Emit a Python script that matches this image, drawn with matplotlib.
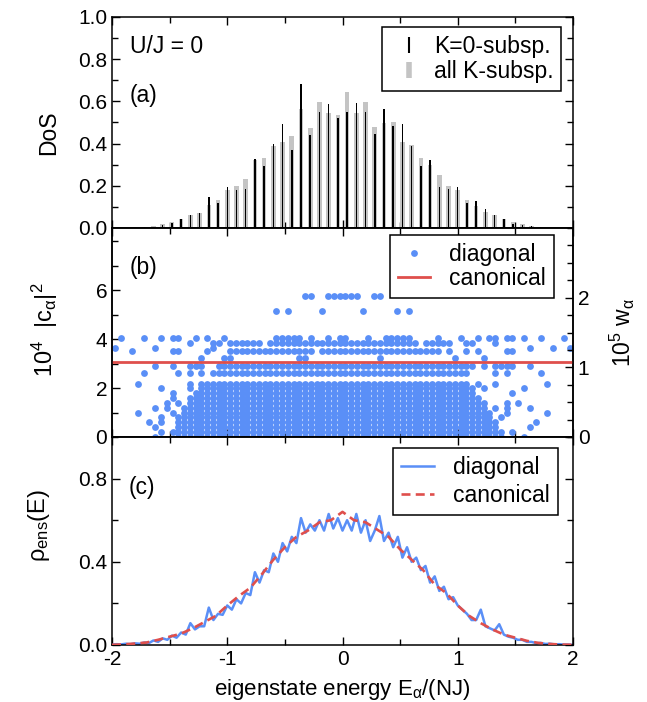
import numpy as np
import matplotlib
matplotlib.use('Agg')
import matplotlib.pyplot as plt
from matplotlib.ticker import MultipleLocator, FixedLocator, FormatStrFormatter
from matplotlib.lines import Line2D

plt.rcParams['font.family'] = ['Liberation Sans', 'DejaVu Sans']
plt.rcParams['mathtext.fontset'] = 'custom'
plt.rcParams['mathtext.rm'] = 'Liberation Sans'
plt.rcParams['mathtext.it'] = 'Liberation Sans'
plt.rcParams['mathtext.default'] = 'regular'
plt.rcParams['axes.unicode_minus'] = False

# ---------------- data: panel (a) DoS histogram ----------------
dos_E = [-1.96, -1.88, -1.80, -1.72, -1.64, -1.56, -1.48, -1.40, -1.32, -1.24,
         -1.16, -1.08, -1.00, -0.92, -0.84, -0.76, -0.68, -0.60, -0.52, -0.44,
         -0.36, -0.28, -0.20, -0.12, -0.04, 0.04, 0.12, 0.20, 0.28, 0.36,
         0.44, 0.52, 0.60, 0.68, 0.76, 0.84, 0.92, 1.00, 1.08, 1.16,
         1.24, 1.32, 1.40, 1.48, 1.56, 1.64, 1.72, 1.80, 1.88, 1.96]
dos_K0 = [0.0, 0.001, 0.002, 0.003, 0.006, 0.013, 0.022, 0.042, 0.062, 0.073,
          0.147, 0.119, 0.195, 0.182, 0.187, 0.325, 0.294, 0.400, 0.492, 0.369,
          0.681, 0.441, 0.551, 0.590, 0.519, 0.548, 0.593, 0.551, 0.445, 0.563,
          0.484, 0.492, 0.388, 0.296, 0.321, 0.195, 0.184, 0.195, 0.119, 0.128,
          0.092, 0.060, 0.044, 0.020, 0.013, 0.008, 0.003, 0.002, 0.001, 0.0]
dos_all = [0.0, 0.001, 0.003, 0.004, 0.009, 0.018, 0.028, 0.045, 0.063, 0.073,
           0.109, 0.135, 0.179, 0.198, 0.231, 0.320, 0.334, 0.389, 0.408, 0.434,
           0.563, 0.476, 0.598, 0.546, 0.535, 0.644, 0.546, 0.598, 0.480, 0.498,
           0.503, 0.408, 0.392, 0.334, 0.298, 0.253, 0.200, 0.179, 0.135, 0.103,
           0.076, 0.063, 0.045, 0.029, 0.018, 0.011, 0.004, 0.002, 0.001, 0.0]

# ---------------- data: panel (b) scatter, read as occupancy rows ----------------
# each row: level of 10^4|c_alpha|^2 and an 80-cell mask over E in [-2, 2]
# (cell width 0.05, groups of 10 cells = 0.5 in E), '#' = points present
b_levels = [5.78, 5.14, 4.03, 3.85, 3.65, 3.50, 3.24, 2.90, 2.60, 2.15, 2.00,
            1.80, 1.60, 1.40, 1.20, 1.00, 0.80, 0.60, 0.40, 0.20, 0.00]
b_masks = [
    ".......... .......... .......... ...##..### ###..##... .......... .......... ..........",
    ".......... .......... ........#. #.....#... ...#.....# .#........ .......... ..........",
    ".#...#..#. ##..#.#..# ........## ###.#..#.# #...#..### ##....#... #..#.##.## .#..#...#.",
    ".......... ...#...##. ######.### ########## ########## ###.#####. .##...#... ..........",
    "#......#.. .......#.. .......... .......... .......... .......... .......... ..#...#..#",
    "...#...... ##....#... ########## #####.#### ########## #######.#. .#.#....## ..........",
    ".......... .....#...# #......... ..##...... ......#... .........# ....#..... ..........",
    ".......#.. #..###..## ########## ########## ########## ########## ###.#.#### ..#.......",
    ".....#.... .#.#.#.### ########## ########## ########## ########## ##....#.#. ....#.....",
    "....#..... ...#.##### ########## ########## ########## ########## ##.#..#... .....#....",
    "........#. ...#.##### ########## ########## ########## ########## ###.#..... .#........",
    ".......... #...###### ########## ########## ########## ########## ###......# ..........",
    ".......... #..####### ########## ########## ########## ########## ####...... ..........",
    ".........# .#.####### ########## ########## ########## ########## #####...#. #.........",
    ".......#.# ..######## ########## ########## ########## ########## #####.#.#. ..#.......",
    "....#..... #.######## ########## ########## ########## ########## ######..#. .....#....",
    "........#. .######### ########## ########## ########## ########## ######.#.. ..........",
    "......#.#. .######### ########## ########## ########## ########## #######... ...#......",
    ".......#.. .######### ########## ########## ########## ########## #######... ..#.......",
    "........#. ########## ########## ########## ########## ########## ########.# ..........",
    ".......#.. .######### ########## ########## ########## ########## ########.. .#........",
]
canonical_c2 = 3.07   # 10^4 |c|^2 of the canonical weight

# ---------------- data: panel (c) energy distributions ----------------
canon_E = [-2.0, -1.9, -1.8, -1.7, -1.6, -1.5, -1.4, -1.3, -1.2, -1.1, -1.0,
           -0.9, -0.8, -0.7, -0.6, -0.5, -0.4, -0.3, -0.2, -0.1, 0.0,
           0.1, 0.2, 0.3, 0.4, 0.5, 0.6, 0.7, 0.8, 0.9, 1.0,
           1.1, 1.2, 1.3, 1.4, 1.5, 1.6, 1.7, 1.8, 1.9, 2.0]
canon_rho = [0.001, 0.003, 0.007, 0.012, 0.025, 0.040, 0.055, 0.080, 0.110, 0.140, 0.190,
             0.235, 0.275, 0.340, 0.410, 0.470, 0.520, 0.550, 0.590, 0.600, 0.640,
             0.600, 0.590, 0.555, 0.520, 0.460, 0.410, 0.360, 0.290, 0.250, 0.190,
             0.140, 0.105, 0.075, 0.050, 0.035, 0.020, 0.010, 0.005, 0.002, 0.001]
diag_E = [-2.00, -1.96, -1.92, -1.88, -1.84, -1.80, -1.76, -1.72, -1.68, -1.64,
          -1.60, -1.56, -1.52, -1.48, -1.44, -1.40, -1.36, -1.32, -1.28, -1.24,
          -1.20, -1.16, -1.12, -1.08, -1.04, -1.00, -0.96, -0.92, -0.88, -0.84,
          -0.80, -0.76, -0.72, -0.68, -0.64, -0.60, -0.56, -0.52, -0.48, -0.44,
          -0.40, -0.36, -0.32, -0.28, -0.24, -0.20, -0.16, -0.12, -0.08, -0.04,
          0.00, 0.04, 0.08, 0.12, 0.16, 0.20, 0.24, 0.28, 0.32, 0.36,
          0.40, 0.44, 0.48, 0.52, 0.56, 0.60, 0.64, 0.68, 0.72, 0.76,
          0.80, 0.84, 0.88, 0.92, 0.96, 1.00, 1.04, 1.08, 1.12, 1.16,
          1.20, 1.24, 1.28, 1.32, 1.36, 1.40, 1.44, 1.48, 1.52, 1.56,
          1.60, 1.64, 1.68, 1.72, 1.76, 1.80, 1.84, 1.88, 1.92, 1.96, 2.00]
diag_rho = [0.003, 0.004, 0.003, 0.006, 0.004, 0.008, 0.006, 0.012, 0.009, 0.022,
            0.015, 0.032, 0.025, 0.045, 0.035, 0.060, 0.050, 0.105, 0.075, 0.090,
            0.090, 0.180, 0.120, 0.150, 0.145, 0.190, 0.170, 0.220, 0.200, 0.250,
            0.240, 0.350, 0.300, 0.360, 0.350, 0.440, 0.400, 0.490, 0.450, 0.520,
            0.490, 0.610, 0.540, 0.580, 0.550, 0.600, 0.550, 0.630, 0.560, 0.610,
            0.550, 0.600, 0.550, 0.630, 0.540, 0.600, 0.500, 0.550, 0.620, 0.500,
            0.540, 0.470, 0.520, 0.420, 0.470, 0.400, 0.420, 0.360, 0.380, 0.300,
            0.330, 0.260, 0.280, 0.220, 0.230, 0.190, 0.170, 0.150, 0.120, 0.120,
            0.170, 0.090, 0.080, 0.070, 0.100, 0.050, 0.040, 0.035, 0.025, 0.025,
            0.015, 0.015, 0.009, 0.010, 0.005, 0.006, 0.003, 0.004, 0.002, 0.002, 0.001]

# ---------------- style ----------------
BLUE = '#5a8ff7'
RED = '#df4f4c'
GRAY = '#c4c4c4'
FS = 15      # tick labels
FL = 16.5    # legends, labels, annotations

fig = plt.figure(figsize=(6.47, 7.02), dpi=100)
L, W = 112 / 647, 461 / 647
ax_a = fig.add_axes([L, 1 - 228 / 702, W, 211 / 702])
ax_b = fig.add_axes([L, 1 - 437 / 702, W, 209 / 702])
ax_c = fig.add_axes([L, 1 - 645 / 702, W, 208 / 702])


def style_axes(ax, right=True):
    for s in ax.spines.values():
        s.set_linewidth(1.1)
    ax.set_xlim(-2, 2)
    ax.xaxis.set_major_locator(MultipleLocator(1))
    ax.xaxis.set_minor_locator(MultipleLocator(0.5))
    ax.tick_params(which='both', direction='in', top=True, right=right,
                   labelsize=FS, width=1.0)
    ax.tick_params(which='major', length=6)
    ax.tick_params(which='minor', length=4.5)


def make_legend(ax, handles, labels, anchor, **kw):
    leg = ax.legend(handles, labels, loc='upper right', bbox_to_anchor=anchor,
                    borderaxespad=0, fontsize=FL, frameon=True, fancybox=False,
                    edgecolor='black', framealpha=1, numpoints=1, **kw)
    leg.get_frame().set_linewidth(1.1)
    return leg


# ---- panel (a)
style_axes(ax_a)
ax_a.bar(dos_E, dos_all, width=0.040, color=GRAY, zorder=2)
ax_a.bar(dos_E, dos_K0, width=0.013, color='black', zorder=3)
ax_a.set_ylim(0, 1.0)
ax_a.yaxis.set_major_locator(MultipleLocator(0.2))
ax_a.yaxis.set_minor_locator(MultipleLocator(0.1))
ax_a.yaxis.set_major_formatter(FormatStrFormatter('%.1f'))
ax_a.tick_params(axis='x', labelbottom=False)
ax_a.set_ylabel('DoS', fontsize=FL)
ax_a.yaxis.set_label_coords(-0.113, 0.45)
ax_a.text(0.039, 0.858, 'U/J = 0', transform=ax_a.transAxes, fontsize=FL,
          ha='left', va='center')
ax_a.text(0.039, 0.626, '(a)', transform=ax_a.transAxes, fontsize=FL,
          ha='left', va='center')
h1 = Line2D([], [], color='black', marker='|', linestyle='None',
            markersize=11, markeredgewidth=1.5)
h2 = Line2D([], [], color=GRAY, marker='|', linestyle='None',
            markersize=11, markeredgewidth=4)
make_legend(ax_a, [h1, h2], ['K=0-subsp.', 'all K-subsp.'], (0.975, 0.954),
            handlelength=1.6, handletextpad=0.3, borderpad=0.35,
            labelspacing=0.1)

# ---- panel (b)
style_axes(ax_b, right=False)
bx, by = [], []
for lev, mask in zip(b_levels, b_masks):
    cells = mask.replace(' ', '')
    for i, ch in enumerate(cells):
        if ch == '#':
            bx.append(-1.975 + 0.05 * i)
            by.append(lev)
hd, = ax_b.plot(bx, by, 'o', color=BLUE, markersize=4.9, markeredgewidth=0,
                zorder=2)
hc = ax_b.axhline(canonical_c2, color=RED, lw=2.0, zorder=3)
ax_b.set_ylim(0, 8.55)
ax_b.yaxis.set_major_locator(FixedLocator([0, 2, 4, 6]))
ax_b.yaxis.set_minor_locator(MultipleLocator(1))
ax_b.tick_params(axis='x', labelbottom=False)
ax_b.set_ylabel(r'$10^{4}\ \ |c_{\alpha}|^{2}$', fontsize=17)
ax_b.yaxis.set_label_coords(-0.113, 0.512)
ax_b.text(0.039, 0.809, '(b)', transform=ax_b.transAxes, fontsize=FL,
          ha='left', va='center')
hdl = Line2D([], [], color=BLUE, marker='o', linestyle='None',
             markersize=4.9, markeredgewidth=0)
make_legend(ax_b, [hdl, hc], ['diagonal', 'canonical'], (0.959, 0.967),
            handlelength=1.4, handletextpad=0.85, borderpad=0.35,
            labelspacing=0.05)
axr = ax_b.twinx()
axr.set_position(ax_b.get_position())
axr.set_ylim(0, 3.0)
axr.yaxis.set_major_locator(FixedLocator([0, 1, 2]))
axr.yaxis.set_minor_locator(MultipleLocator(0.25))
axr.tick_params(which='both', direction='in', labelsize=FS, width=1.0)
axr.tick_params(which='major', length=6)
axr.tick_params(which='minor', length=4.5)
for s in axr.spines.values():
    s.set_linewidth(1.1)
axr.set_ylabel(r'$10^{5}\ w_{\alpha}$', fontsize=FL)
axr.yaxis.set_label_coords(1.076, 0.502)

# ---- panel (c)
style_axes(ax_c)
ax_c.plot(diag_E, diag_rho, color=BLUE, lw=1.8, zorder=2)
ax_c.plot(canon_E, canon_rho, color=RED, lw=1.9, dashes=(3.4, 2.0), zorder=3)
ax_c.set_ylim(0, 1.0)
ax_c.yaxis.set_major_locator(FixedLocator([0.0, 0.4, 0.8]))
ax_c.yaxis.set_minor_locator(MultipleLocator(0.2))
ax_c.yaxis.set_major_formatter(FormatStrFormatter('%.1f'))
ax_c.set_xticks([-2, -1, 0, 1, 2])
ax_c.set_xticklabels(['-2', '-1', '0', '1', '2'])
ax_c.set_ylabel(r'$\rho_{ens}(E)$', fontsize=17)
ax_c.yaxis.set_label_coords(-0.13, 0.577)
ax_c.set_xlabel(r'eigenstate energy $E_{\alpha}$/(NJ)', fontsize=16)
ax_c.xaxis.set_label_coords(0.5, -0.155)
ax_c.text(0.035, 0.755, '(c)', transform=ax_c.transAxes, fontsize=FL,
          ha='left', va='center')
hl1 = Line2D([], [], color=BLUE, lw=1.8)
hl2 = Line2D([], [], color=RED, lw=1.9, dashes=(3.4, 2.0))
make_legend(ax_c, [hl1, hl2], ['diagonal', 'canonical'], (0.967, 0.947),
            handlelength=1.4, handletextpad=0.85, borderpad=0.35,
            labelspacing=0.2)

fig.savefig('out.png', dpi=100)
